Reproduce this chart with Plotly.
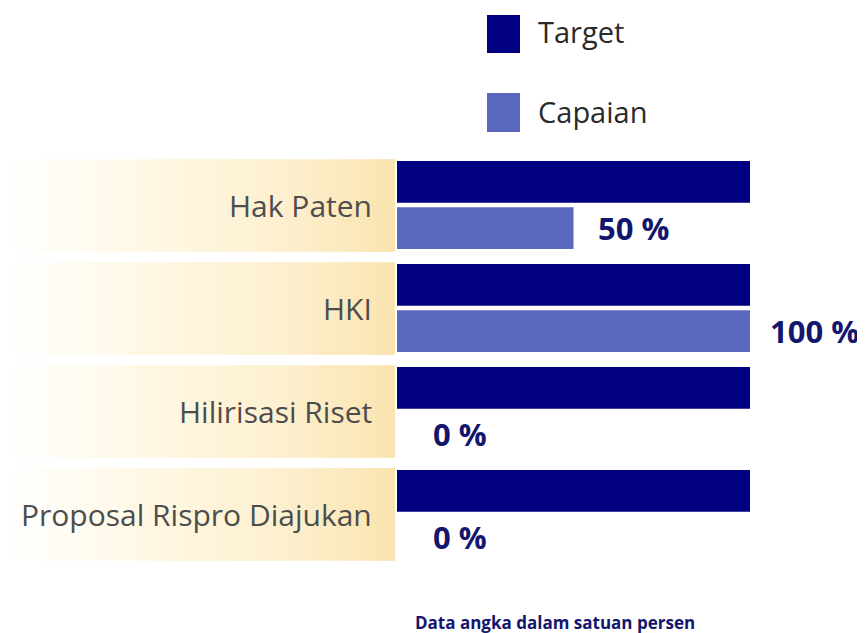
import plotly.graph_objects as go

categories = ["Hak Paten", "HKI", "Hilirisasi Riset", "Proposal Rispro Diajukan"]
target = [100, 100, 100, 100]
capaian = [50, 100, 0, 0]
capaian_labels = ["50 %", "100 %", "0 %", "0 %"]
footer = "Data angka dalam satuan persen"

NAVY = "#000080"
LIGHT = "#5b68c0"
LABEL = "#14166e"

W, H = 857, 625  # page has an 8px body margin
OFF = 8

def px(p):
    return (p - OFF) / W

def py(p):
    return 1 - (p - OFF) / H

ypos = list(range(len(categories)))

fig = go.Figure()
fig.add_trace(go.Bar(y=ypos, x=target, orientation="h", name="Target",
                     marker=dict(color=NAVY, line=dict(width=0)), showlegend=False))
fig.add_trace(go.Bar(y=ypos, x=capaian, orientation="h", name="Capaian",
                     marker=dict(color=LIGHT, line=dict(width=0)), showlegend=False))

def lerp(c1, c2, t):
    return tuple(int(round(a + (b - a) * t)) for a, b in zip(c1, c2))

stops = [(0.0, (255, 255, 255)), (0.35, (255, 248, 228)), (0.7, (253, 240, 208)), (1.0, (250, 228, 175))]
def grad(t):
    for (t0, c0), (t1, c1) in zip(stops[:-1], stops[1:]):
        if t <= t1:
            return lerp(c0, c1, (t - t0) / (t1 - t0))
    return stops[-1][1]

x_end = px(395)
n = 60
shapes = []
for i in ypos:
    for k in range(n):
        x0 = x_end * k / n
        x1 = min(x_end * (k + 1) / n + 0.001, x_end)
        c = grad((k + 0.5) / n)
        shapes.append(dict(type="rect", xref="paper", yref="y", x0=x0, x1=x1,
                           y0=i - 0.445, y1=i + 0.455, fillcolor="rgb(%d,%d,%d)" % c,
                           line=dict(width=0), layer="below"))

annotations = []
for i, (v, lab) in enumerate(zip(capaian, capaian_labels)):
    annotations.append(dict(x=v, y=i + 0.225, xref="x", yref="y", text="<b>" + lab + "</b>",
                            showarrow=False, xanchor="left", yanchor="middle",
                            xshift=(18 if v >= 100 else 22) if v > 0 else 34,
                            font=dict(family="Open Sans", size=31, color=LABEL)))
for i, c in enumerate(categories):
    annotations.append(dict(x=px(374), y=i, xref="paper", yref="y", text=c, showarrow=False,
                            xanchor="right", yanchor="middle",
                            font=dict(family="Open Sans", size=30, color="#4d4d4d")))

legend_items = [("Target", NAVY, 15, 53, 32), ("Capaian", LIGHT, 93, 132, 111)]
for name, col, y0, y1, yt in legend_items:
    shapes.append(dict(type="rect", xref="paper", yref="paper", x0=px(487), x1=px(520),
                       y0=py(y1), y1=py(y0), fillcolor=col, line=dict(width=0)))
    annotations.append(dict(x=px(536), y=py(yt), xref="paper", yref="paper", text=name,
                            showarrow=False, xanchor="left", yanchor="middle",
                            font=dict(family="Open Sans", size=29, color="#2a2a2a")))

annotations.append(dict(x=px(555), y=py(622), xref="paper", yref="paper", text="<b>" + footer + "</b>",
                        showarrow=False, xanchor="center", yanchor="middle",
                        font=dict(family="Open Sans", size=17, color=LABEL)))

fig.update_layout(
    width=W, height=H,
    margin=dict(l=0, r=0, t=0, b=0),
    paper_bgcolor="white", plot_bgcolor="white",
    barmode="group", bargap=0.1, bargroupgap=0.1,
    shapes=shapes, annotations=annotations,
    xaxis=dict(domain=[px(397), 1], range=[0, 100 * (865 - 397) / (750 - 397)],
               showgrid=False, zeroline=False, showticklabels=False, fixedrange=True),
    yaxis=dict(domain=[py(565.5), py(153.5)], range=[3.5, -0.5],
               showgrid=False, zeroline=False, showticklabels=False, fixedrange=True),
    showlegend=False,
)

fig.write_html("out.html")
